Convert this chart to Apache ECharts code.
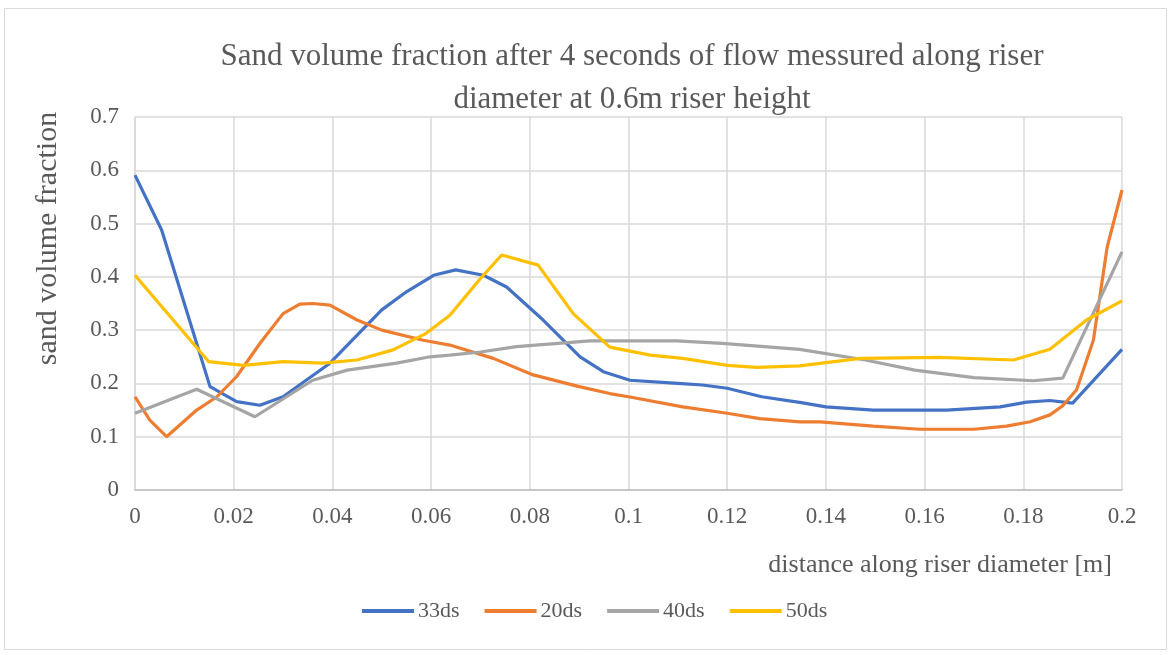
<!DOCTYPE html>
<html><head><meta charset="utf-8">
<script src="https://cdn.jsdelivr.net/npm/echarts@6/dist/echarts.min.js"></script>
<style>html,body{margin:0;padding:0;background:#fff}#c{width:1170px;height:655px}</style>
</head><body><div id="c"></div>
<script>
const seriesNames = ['33ds', '20ds', '40ds', '50ds'];
const s33x = [0, 0.0054, 0.0152, 0.0206, 0.0253, 0.030, 0.0395, 0.046, 0.050, 0.055, 0.0605, 0.065, 0.0706, 0.0753, 0.0827, 0.0902, 0.0949, 0.1003, 0.110, 0.115, 0.120, 0.127, 0.135, 0.140, 0.1496, 0.1645, 0.1753, 0.1807, 0.1854, 0.190, 0.2];
const s33y = [0.591, 0.488, 0.194, 0.166, 0.159, 0.175, 0.238, 0.300, 0.338, 0.372, 0.403, 0.413, 0.403, 0.381, 0.319, 0.250, 0.222, 0.206, 0.200, 0.197, 0.191, 0.175, 0.164, 0.156, 0.150, 0.150, 0.156, 0.165, 0.168, 0.163, 0.264];
const s20x = [0, 0.003, 0.0064, 0.0125, 0.0166, 0.0206, 0.0253, 0.030, 0.0334, 0.036, 0.0395, 0.045, 0.050, 0.0584, 0.0638, 0.0726, 0.0807, 0.090, 0.0962, 0.100, 0.111, 0.120, 0.1266, 0.1347, 0.1388, 0.1496, 0.159, 0.170, 0.1766, 0.1814, 0.1854, 0.188, 0.1908, 0.1942, 0.197, 0.2];
const s20y = [0.175, 0.131, 0.100, 0.150, 0.175, 0.213, 0.275, 0.331, 0.349, 0.350, 0.347, 0.319, 0.300, 0.281, 0.272, 0.247, 0.216, 0.194, 0.181, 0.175, 0.156, 0.144, 0.134, 0.128, 0.128, 0.120, 0.114, 0.114, 0.120, 0.128, 0.141, 0.158, 0.188, 0.281, 0.456, 0.563];
const s40x = [0, 0.0125, 0.0243, 0.036, 0.043, 0.053, 0.0598, 0.0638, 0.070, 0.0773, 0.0922, 0.1098, 0.119, 0.1347, 0.148, 0.158, 0.170, 0.182, 0.188, 0.2];
const s40y = [0.144, 0.189, 0.1375, 0.206, 0.225, 0.238, 0.250, 0.253, 0.259, 0.269, 0.280, 0.280, 0.275, 0.264, 0.244, 0.225, 0.211, 0.205, 0.210, 0.447];
const s50x = [0, 0.0149, 0.022, 0.030, 0.038, 0.045, 0.0523, 0.059, 0.0638, 0.070, 0.0743, 0.0817, 0.0888, 0.0962, 0.1044, 0.111, 0.120, 0.126, 0.1347, 0.147, 0.163, 0.178, 0.1854, 0.1928, 0.2];
const s50y = [0.403, 0.241, 0.234, 0.241, 0.238, 0.244, 0.263, 0.294, 0.328, 0.397, 0.441, 0.422, 0.331, 0.268, 0.253, 0.247, 0.234, 0.230, 0.233, 0.247, 0.249, 0.244, 0.264, 0.319, 0.355];
const titleText = 'Sand volume fraction after 4 seconds of flow messured along riser\ndiameter at 0.6m riser height';
const xName = 'distance along riser diameter [m]';
const yName = 'sand volume fraction';

const colors = ['#4472C4', '#ED7D31', '#A5A5A5', '#FFC000'];
const xsAll = [s33x, s20x, s40x, s50x];
const ysAll = [s33y, s20y, s40y, s50y];
const font = 'Liberation Serif';
const txt = '#595959';

const chart = echarts.init(document.getElementById('c'), null, {renderer: 'canvas'});
chart.setOption({
  animation: false,
  backgroundColor: '#fff',
  color: colors,
  graphic: [{type: 'rect', shape: {x: 4.5, y: 8.5, width: 1162, height: 641}, style: {fill: 'none', stroke: '#d9d9d9', lineWidth: 1}, silent: true}],
  title: {text: titleText, left: 627, top: 30, textAlign: 'center',
    textStyle: {fontFamily: font, fontSize: 31, fontWeight: 'normal', color: txt, lineHeight: 43}},
  legend: {bottom: 28, left: 357, itemWidth: 52, itemHeight: 4, itemGap: 25, icon: 'rect',
    textStyle: {fontFamily: font, fontSize: 22, color: txt, padding: [0, 0, 0, -1]},
    data: seriesNames},
  grid: {left: 135, right: 48, top: 117, bottom: 165, containLabel: false},
  xAxis: {type: 'value', min: 0, max: 0.2, interval: 0.02,
    name: xName, nameLocation: 'end', nameGap: -10,
    nameTextStyle: {fontFamily: font, fontSize: 26, color: txt, align: 'right', verticalAlign: 'top', padding: [62, 0, 0, 0]},
    axisLine: {show: true, lineStyle: {color: '#bfbfbf', width: 1.5}},
    axisTick: {show: false},
    axisLabel: {fontFamily: font, fontSize: 23, color: txt, margin: 15},
    splitLine: {show: true, lineStyle: {color: '#d9d9d9', width: 1.5}}},
  yAxis: {type: 'value', min: 0, max: 0.7, interval: 0.1,
    name: yName, nameLocation: 'middle', nameGap: 72, nameRotate: 90,
    nameTextStyle: {fontFamily: font, fontSize: 30, color: txt, padding: [0, 0, 0, 130]},
    axisLine: {show: true, lineStyle: {color: '#d9d9d9', width: 1.5}},
    axisTick: {show: false},
    axisLabel: {fontFamily: font, fontSize: 23, color: txt, margin: 16},
    splitLine: {show: true, lineStyle: {color: '#d9d9d9', width: 1.5}}},
  series: seriesNames.map((n, i) => ({
    name: n, type: 'line', showSymbol: false, symbol: 'none', smooth: false,
    lineStyle: {width: 3.2, color: colors[i]}, itemStyle: {color: colors[i]},
    data: xsAll[i].map((x, k) => [x, ysAll[i][k]])
  }))
});
</script></body></html>
